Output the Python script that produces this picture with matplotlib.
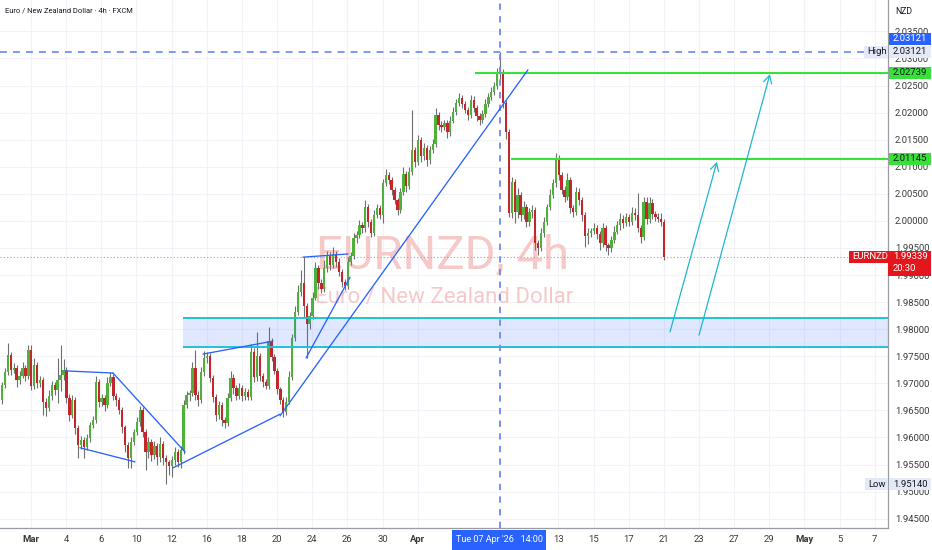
import numpy as np
import matplotlib
matplotlib.use("Agg")
import matplotlib.pyplot as plt
import matplotlib.transforms as mtransforms
from matplotlib.patches import Rectangle

plt.rcParams['font.family'] = ['Roboto', 'DejaVu Sans']

# --- EURNZD 4h candles (closes, opens = previous close) ---
first_open = 1.9669
closes = [
    1.9697, 1.9721, 1.9752, 1.9725, 1.9728, 1.9706, 1.9714, 1.9728, 1.9714, 1.9762,
    1.9695, 1.9734, 1.9701, 1.9706, 1.9666, 1.9654, 1.9677, 1.9697, 1.9688, 1.9706,
    1.9715, 1.9725, 1.9673, 1.9642, 1.9669, 1.9617, 1.9586, 1.9595, 1.9582, 1.9599,
    1.9623, 1.9632, 1.9702, 1.9666, 1.9673, 1.9660, 1.9701, 1.9712, 1.9677, 1.9669,
    1.9651, 1.9619, 1.9586, 1.9562, 1.9592, 1.9610, 1.9628, 1.9651, 1.9610, 1.9573,
    1.9592, 1.9568, 1.9584, 1.9564, 1.9588, 1.9562, 1.9555, 1.9547, 1.9558, 1.9573,
    1.9555, 1.9577, 1.9660, 1.9678, 1.9682, 1.9728, 1.9678, 1.9669, 1.9721, 1.9747,
    1.9750, 1.9710, 1.9675, 1.9642, 1.9660, 1.9632, 1.9627, 1.9673, 1.9710, 1.9691,
    1.9677, 1.9691, 1.9677, 1.9684, 1.9675, 1.9758, 1.9712, 1.9750, 1.9714, 1.9702,
    1.9695, 1.9778, 1.9749, 1.9723, 1.9690, 1.9669, 1.9647, 1.9666, 1.9712, 1.9784,
    1.9832, 1.9869, 1.9885, 1.9843, 1.9810, 1.9824, 1.9858, 1.9913, 1.9885, 1.9874,
    1.9913, 1.9935, 1.9919, 1.9939, 1.9924, 1.9906, 1.9887, 1.9880, 1.9924, 1.9935,
    1.9968, 1.9974, 1.9992, 1.9987, 2.0026, 1.9998, 1.9978, 2.0011, 2.0024, 2.0011,
    2.0070, 2.0085, 2.0076, 2.0057, 2.0039, 2.0020, 2.0053, 2.0087, 2.0064, 2.0090,
    2.0131, 2.0109, 2.0149, 2.0120, 2.0135, 2.0112, 2.0131, 2.0142, 2.0196, 2.0177,
    2.0173, 2.0181, 2.0164, 2.0185, 2.0201, 2.0218, 2.0227, 2.0216, 2.0205, 2.0196,
    2.0223, 2.0209, 2.0194, 2.0186, 2.0197, 2.0216, 2.0229, 2.0238, 2.0249, 2.0271,
    2.0273, 2.0218, 2.0164, 2.0015, 2.0072, 2.0016, 2.0048, 2.0011, 2.0026, 1.9998,
    2.0016, 2.0020, 1.9959, 1.9950, 1.9978, 1.9998, 2.0026, 2.0048, 2.0070, 2.0112,
    2.0085, 2.0057, 2.0044, 2.0076, 2.0024, 2.0016, 2.0053, 2.0039, 2.0011, 1.9972,
    1.9978, 1.9981, 1.9987, 1.9976, 1.9959, 1.9987, 1.9955, 1.9950, 1.9965, 1.9980,
    1.9992, 2.0004, 1.9996, 2.0007, 1.9998, 2.0015, 2.0011, 1.9987, 1.9970, 2.0035,
    2.0004, 2.0033, 2.0013, 2.0007, 2.0004, 1.9998, 1.99339,
]
# wick lengths beyond the body, in pips
upper_wick = [
    6, 8, 22, 6, 10, 5, 8, 12, 5, 9, 9, 12, 6, 8, 5, 6, 10, 8, 6, 40,
    56, 20, 6, 8, 10, 5, 6, 8, 5, 7, 6, 8, 12, 6, 8, 5, 10, 9, 6, 5,
    6, 5, 4, 6, 8, 6, 10, 8, 6, 5, 8, 6, 10, 5, 12, 6, 5, 4, 8, 10,
    6, 8, 10, 8, 6, 12, 34, 8, 10, 12, 8, 6, 5, 6, 8, 5, 6, 10, 12, 8,
    6, 10, 5, 8, 6, 14, 8, 45, 6, 5, 6, 26, 6, 5, 6, 4, 5, 8, 10, 8,
    10, 12, 24, 48, 6, 8, 10, 12, 6, 8, 14, 10, 8, 12, 6, 8, 5, 6, 10, 8,
    10, 8, 10, 6, 12, 6, 5, 10, 8, 6, 8, 10, 6, 5, 6, 4, 8, 12, 6, 10,
    74, 6, 10, 6, 8, 6, 8, 10, 12, 6, 8, 6, 5, 8, 10, 8, 10, 6, 5, 6,
    10, 8, 5, 6, 8, 10, 8, 10, 8, 12, 39, 8, 6, 5, 10, 6, 12, 6, 10, 6,
    8, 10, 6, 5, 8, 10, 6, 10, 8, 13, 10, 6, 8, 12, 6, 5, 10, 8, 6, 5,
    8, 6, 10, 6, 5, 10, 6, 5, 8, 10, 8, 10, 6, 8, 6, 10, 8, 41, 6, 9,
    10, 12, 8, 6, 8, 10, 6,
]
lower_wick = [
    8, 6, 5, 10, 6, 12, 8, 5, 10, 6, 8, 6, 10, 8, 24, 15, 6, 8, 10, 25,
    20, 8, 10, 12, 6, 10, 24, 8, 20, 6, 8, 6, 5, 10, 8, 12, 5, 6, 8, 10,
    8, 10, 12, 18, 18, 6, 5, 6, 10, 33, 10, 12, 8, 14, 10, 12, 41, 16, 20, 8,
    10, 12, 8, 6, 10, 6, 8, 10, 6, 8, 10, 8, 10, 12, 8, 10, 10, 6, 5, 10,
    8, 6, 10, 8, 6, 5, 10, 8, 10, 8, 6, 5, 8, 6, 10, 8, 10, 6, 5, 6,
    5, 6, 8, 22, 63, 10, 6, 5, 10, 8, 6, 8, 10, 6, 10, 8, 10, 8, 6, 5,
    6, 8, 6, 10, 8, 10, 8, 6, 5, 8, 15, 6, 8, 10, 8, 10, 6, 5, 10, 6,
    6, 10, 6, 12, 8, 10, 6, 5, 6, 10, 8, 6, 10, 8, 5, 6, 5, 8, 6, 10,
    6, 8, 10, 8, 6, 5, 6, 5, 6, 5, 8, 10, 12, 8, 10, 20, 10, 12, 8, 10,
    8, 10, 12, 13, 6, 8, 6, 5, 6, 8, 10, 8, 10, 6, 10, 8, 6, 10, 12, 20,
    15, 8, 6, 10, 12, 8, 10, 13, 8, 6, 5, 8, 10, 6, 8, 5, 10, 8, 10, 6,
    10, 8, 10, 8, 6, 8, 6,
]
PIP = 0.0001

# time axis: trading-day index of each label (day 0 = Mon 2 Mar), 6 bars per day
label_days = [0, 2, 4, 6, 8, 10, 12, 14, 16, 18, 20, 22,
              30, 32, 34, 36, 38, 40, 42, 44, 46, 48]
label_text = ['Mar', '4', '6', '10', '12', '16', '18', '20', '24', '26', '30', 'Apr',
              '13', '15', '17', '21', '23', '27', '29', 'May', '5', '7']
BARS_PER_DAY = 6
DAY0_BAR = 9.9

price_ticks = np.arange(1.945, 2.0351, 0.005)

high_price = 2.03121
low_price = 1.95140
last_price = 1.99339
level_top = 2.02739
level_mid = 2.01145
zone_low, zone_high = 1.9767, 1.9821
crosshair_bar = 170

# drawings (bar index, price)
trend_lines = [
    ((21.5, 1.9723), (37.9, 1.9719)),
    ((37.9, 1.9719), (62.5, 1.9573)),
    ((26.6, 1.9581), (45.4, 1.9555)),
    ((58.4, 1.9544), (94.9, 1.9643)),
    ((68.6, 1.9754), (92.5, 1.9778)),
    ((94.9, 1.9640), (179.5, 2.0279)),
    ((102.7, 1.9933), (118.1, 1.9939)),
    ((103.8, 1.9747), (118.8, 1.9896)),
]
arrows = [
    ((228.0, 1.9795), (244.0, 2.0109)),
    ((237.9, 1.9789), (262.1, 2.0271)),
]

# --- figure ---
W, H = 932, 550
fig = plt.figure(figsize=(W / 100, H / 100), dpi=100)
fig.patch.set_facecolor('white')
ax = fig.add_axes([0, 22 / H, 888 / W, 528 / H])
ymin, ymax = 1.94328, 2.0408
ax.set_xlim(-0.68, 302.4)
ax.set_ylim(ymin, ymax)
px_price = (ymax - ymin) / 528.0

closes = np.array(closes)
opens = np.concatenate([[first_open], closes[:-1]])
highs = np.maximum(opens, closes) + np.array(upper_wick) * PIP
lows = np.minimum(opens, closes) - np.array(lower_wick) * PIP
xs = np.arange(len(closes))
up = closes >= opens
body_col = np.where(up, '#4fb13a', '#c3262b')

ax.vlines(xs, lows, highs, color='#6f6f6f', lw=0.8, zorder=3)
ax.bar(xs, np.maximum(np.abs(closes - opens), 0.00008), bottom=np.minimum(opens, closes),
       width=0.8, color=body_col, lw=0, zorder=4)

# grid / axes
tick_bars = [DAY0_BAR + BARS_PER_DAY * d for d in label_days]
ax.set_xticks(tick_bars)
ax.set_xticklabels(label_text)
for lab in ax.get_xticklabels():
    if lab.get_text() in ('Mar', 'Apr', 'May'):
        lab.set_fontweight('bold')
ax.set_yticks(price_ticks)
ax.set_yticklabels(['%.5f' % p for p in price_ticks])
ax.yaxis.tick_right()
ax.tick_params(axis='y', length=0, pad=5, labelsize=6.8, labelcolor='#3b3b3b')
ax.tick_params(axis='x', length=0, pad=5, labelsize=6.8, labelcolor='#3b3b3b')
ax.grid(True, color='#f1f3f8', lw=0.8, zorder=0)
ax.set_axisbelow(True)
for side in ('top', 'left'):
    ax.spines[side].set_visible(False)
for side in ('right', 'bottom'):
    ax.spines[side].set_color('#9a9ca3')
    ax.spines[side].set_linewidth(0.9)

# watermark
ax.text(150.5, 1.9913, 'EURNZD, 4h', fontsize=34, color='#f6c9c9', ha='center',
        va='baseline', zorder=1)
ax.text(151.0, 1.9848, 'Euro / New Zealand Dollar', fontsize=16, color='#f6c9c9',
        ha='center', va='baseline', zorder=1)

# zone
ax.add_patch(Rectangle((61.8, zone_low), 400, zone_high - zone_low, facecolor='#2962ff',
                       alpha=0.14, lw=0, zorder=5))
ax.hlines([zone_low, zone_high], 61.8, 400, color='#22c1d6', lw=1.4, zorder=6)

# levels
ax.hlines(level_top, 161.4, 400, color='#36e336', lw=1.5, zorder=6)
ax.hlines(level_mid, 173.7, 400, color='#36e336', lw=1.5, zorder=6)
ax.axhline(high_price, color='#5b7cf0', lw=1.1, ls=(0, (4.5, 4)), zorder=6)
ax.axvline(crosshair_bar, color='#6d88f2', lw=1.3, ls=(0, (3.5, 3.5)), zorder=6)
ax.axhline(last_price, color='#b39aa8', lw=0.8, ls=(0, (1, 2)), zorder=2)

for (x0, y0), (x1, y1) in trend_lines:
    ax.plot([x0, x1], [y0, y1], color='#2962ff', lw=0.95, zorder=7, solid_capstyle='round')
for (x0, y0), (x1, y1) in arrows:
    ax.annotate('', xy=(x1, y1), xytext=(x0, y0),
                arrowprops=dict(arrowstyle='->,head_length=0.55,head_width=0.3',
                                color='#1fb6d0', lw=0.9, shrinkA=0, shrinkB=0), zorder=7)

# header texts
fig.text(5 / W, 1 - 11 / H, 'Euro / New Zealand Dollar \u00b7 4h \u00b7 FXCM', fontsize=5.4,
         color='#131722', ha='left', va='center')
fig.text(895 / W, 1 - 11 / H, 'NZD', fontsize=6.2, color='#131722', ha='left', va='center')

# price-axis labels
trans = mtransforms.blended_transform_factory(fig.transFigure, ax.transData)


def price_box(price, text, face, color, x0=889, x1=931, h=12, tx=893):
    fig.add_artist(Rectangle((x0 / W, price - h / 2 * px_price), (x1 - x0) / W, h * px_price,
                             transform=trans, facecolor=face, edgecolor='none', zorder=5))
    fig.text(tx / W, price, text, transform=trans, fontsize=6.8, color=color,
             ha='left', va='center', zorder=6)


price_box(2.0336, '2.03121', '#2962ff', 'white')
price_box(high_price, '2.03121', '#e3e9f6', '#131722')
price_box(high_price, 'High', '#e3e9f6', '#131722', x0=864, x1=888, tx=867)
price_box(level_top, '2.02739', '#3ae03a', '#131722')
price_box(level_mid, '2.01145', '#3ae03a', '#131722')
price_box(low_price, '1.95140', '#e3e9f6', '#131722')
price_box(low_price, 'Low', '#e3e9f6', '#131722', x0=865, x1=888, tx=868)

red = '#e3161c'
fig.add_artist(Rectangle((849 / W, last_price - 6 * px_price), 39 / W, 12 * px_price,
                         transform=trans, facecolor=red, edgecolor='none', zorder=5))
fig.text(852 / W, last_price, 'EURNZD', transform=trans, fontsize=6.8, color='white',
         ha='left', va='center', zorder=6)
fig.add_artist(Rectangle((888 / W, last_price - 19 * px_price), 43 / W, 25 * px_price,
                         transform=trans, facecolor=red, edgecolor='none', zorder=5))
fig.text(893 / W, last_price, '1.99339', transform=trans, fontsize=6.8, color='white',
         ha='left', va='center', zorder=6)
fig.text(893 / W, last_price - 12 * px_price, '20:30', transform=trans, fontsize=6.8,
         color='white', ha='left', va='center', zorder=6)

# crosshair time label
fig.add_artist(Rectangle((452 / W, 0), 94 / W, 20 / H, transform=fig.transFigure,
                         facecolor='#2962ff', edgecolor='none', zorder=5))
fig.text(499 / W, 10 / H, "Tue 07 Apr '26   14:00", fontsize=6.5, color='white',
         ha='center', va='center', zorder=6)

fig.savefig('out.png', dpi=100, facecolor='white')
